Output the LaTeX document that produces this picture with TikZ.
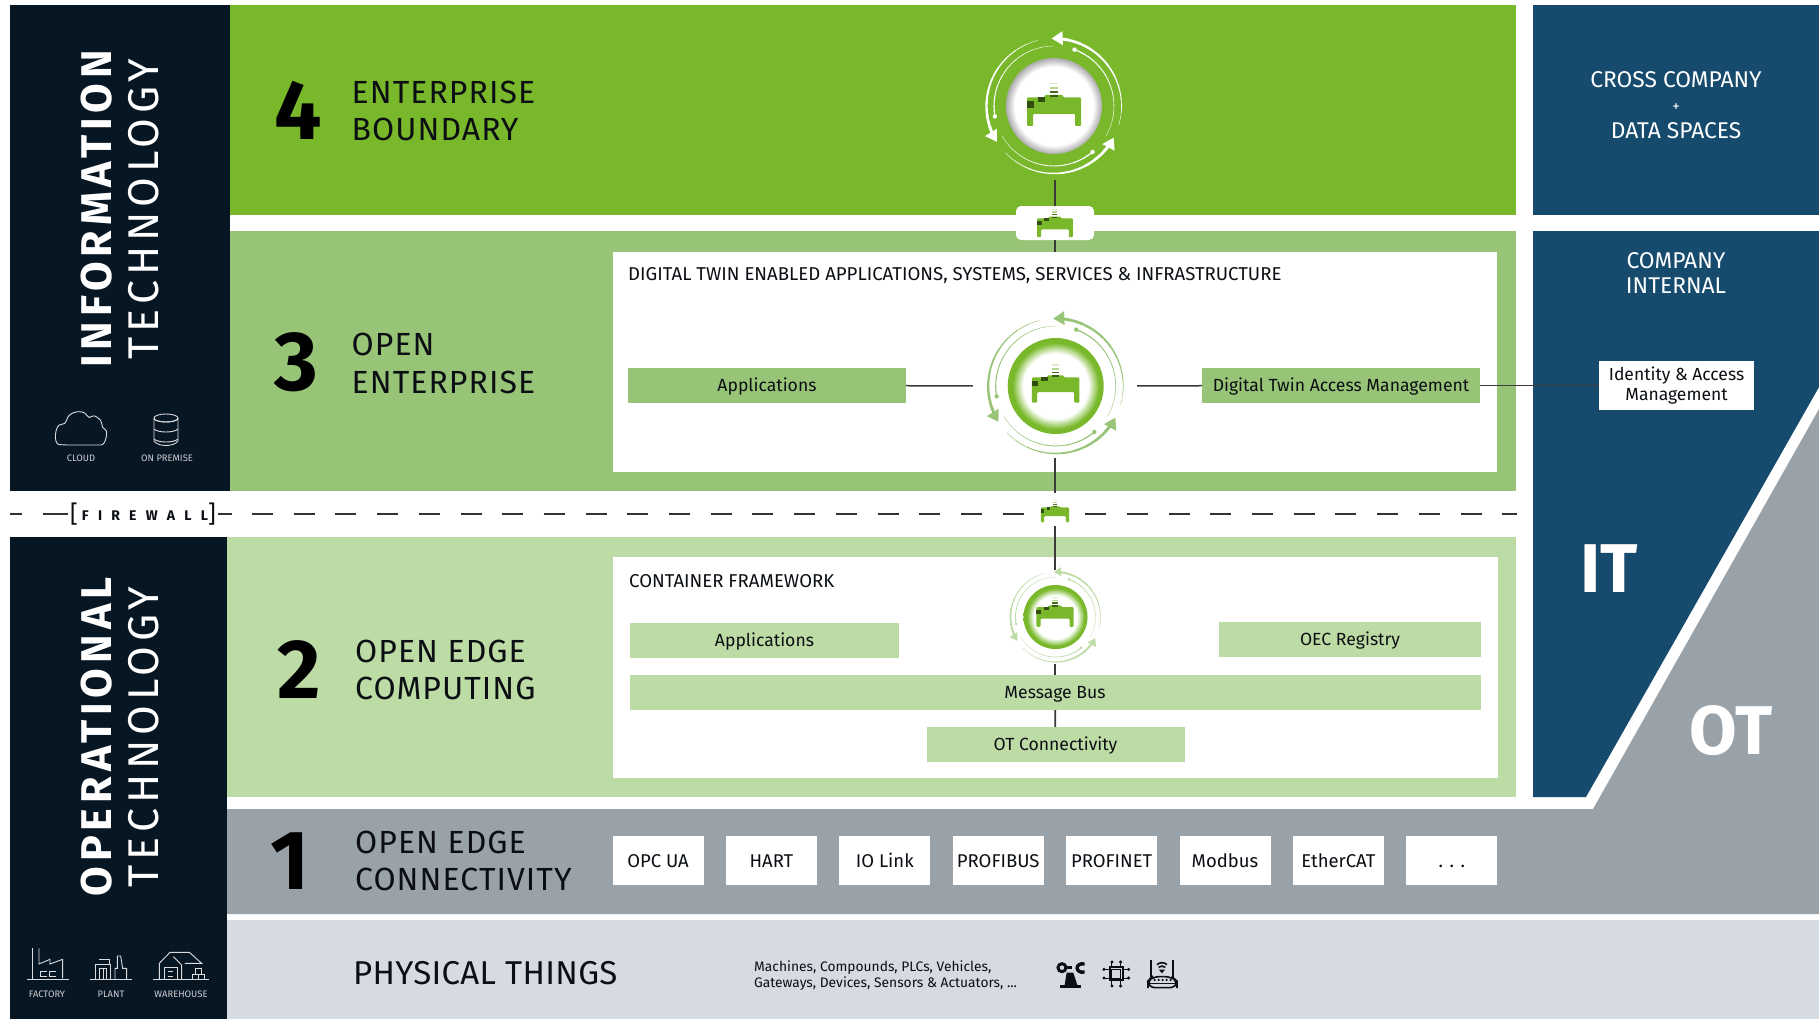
\documentclass[tikz,border=0pt]{standalone}
\usepackage{fontspec}
\setmainfont{Fira Sans}
\usetikzlibrary{positioning}

\definecolor{nightblue}{HTML}{071623}
\definecolor{levelfour}{HTML}{78B82A}
\definecolor{levelthree}{HTML}{98C477}
\definecolor{leveltwo}{HTML}{BDDBA5}
\definecolor{levelone}{HTML}{9AA2A9}
\definecolor{levelzero}{HTML}{D6DAE2}
\definecolor{itblue}{HTML}{164B6E}
\definecolor{linkgrey}{HTML}{3A3A3A}
\definecolor{inkblack}{HTML}{0B0F14}

\newcommand{\fsz}[1]{\fontsize{#1}{#1}\selectfont}

\pgfdeclareradialshading{greyrim}{\pgfpointorigin}{color(0bp)=(white); color(20.5bp)=(white); color(25bp)=(gray!65); color(50bp)=(gray!65)}
\pgfdeclareradialshading{fourrim}{\pgfpointorigin}{color(0bp)=(white); color(17bp)=(white); color(22.5bp)=(levelfour); color(25bp)=(levelfour); color(50bp)=(levelfour)}

\tikzset{
  pics/twin/.style={code={
    \fill[levelfour,rounded corners=1pt] (-27,-8.7) -- (-9.3,-8.7) -- (-9.3,-11) -- (9,-11) -- (9,-8.7) -- (27,-8.7) -- (27,20) -- (21,20) -- (21,8) -- (-21,8) -- (-21,20) -- (-27,20) -- cycle;
    \fill[black!30!levelfour!60!black] (-27,-5) rectangle (-20.3,1.7);
    \fill[black!30!levelfour!60!black] (-16.3,-8.7) rectangle (-9.3,-4);
    \fill[levelfour!25] (-4.3,-23.3) rectangle (3.7,-22);
    \fill[levelfour!55] (-4.3,-19.3) rectangle (3.7,-17.3);
    \fill[levelfour!60!black] (-4.3,-15.3) rectangle (3.7,-13.3);
    \fill[levelfour!50!black] (-4.3,-11) rectangle (3.7,-9);
  }},
  pics/twinring/.style n args={3}{code={
    \shade[shading=#2] (0pt,0pt) circle (48pt);
    \foreach \ringrot in {0,120,240} {
      \begin{scope}[rotate=\ringrot]
        \foreach \s in {0,...,9} {
          \pgfmathsetmacro\outerang{-16+10.4*\s}
          \pgfmathsetmacro\innerang{-30+10*\s}
          \draw[#1,line width=(0.4+0.28*\s)*#3 pt] (\outerang:67.5pt) arc[start angle=\outerang,delta angle=11,radius=67.5pt];
          \draw[#1,line width=(0.3+0.1*\s)*#3 pt] (\innerang:60pt) arc[start angle=\innerang,delta angle=10.5,radius=60pt];
        }
        \fill[#1,rotate=92] (67.5pt,0pt) -- ++(-7pt,-11pt) -- ++(14pt,0pt) -- cycle;
        \fill[#1] (70:60pt) circle (2.2pt);
      \end{scope}
    }
  }},
  rowhead/.style={anchor=west,align=left,inner sep=0pt,text=inkblack,font=\fontsize{32}{37}\selectfont\addfontfeature{LetterSpace=3.3}},
  levelnum/.style={text=black,font=\fsz{84}\bfseries},
  sidetitle/.style={rotate=90,text=white},
  smalltag/.style={text=white!80!nightblue,font=\fsz{9.4}},
  sidetext/.style={text=white,align=center,font=\fontsize{22.8}{25}\selectfont},
  greenbox/.style={minimum height=35pt,inner sep=0pt,text height=12pt,text depth=0pt,text=inkblack,font=\fsz{17.6}},
  connbox/.style={fill=white,minimum width=91pt,minimum height=49pt,inner sep=0pt,text height=13pt,text depth=0pt,text=inkblack,font=\fsz{18.5}},
  link/.style={draw=linkgrey,line width=1.8pt},
  fwdash/.style={draw=inkblack!85,line width=1.8pt},
  hollow/.style={draw=white!85!nightblue,line width=.9pt},
}

\begin{document}
\begin{tikzpicture}[x=1pt,y=-1pt]
\useasboundingbox (0,0) rectangle (1819,1019);

% bands
\fill[nightblue] (10,5) rectangle (230,491);
\fill[nightblue] (10,537) rectangle (227,1019);
\fill[levelfour] (230,5) rectangle (1516,215);
\fill[levelthree] (230,231) rectangle (1516,491);
\fill[leveltwo] (227,537) rectangle (1516,797);
\fill[levelone] (227,809) -- (1593,809) -- (1819,409) -- (1819,914) -- (227,914) -- cycle;
\fill[levelzero] (227,920) rectangle (1819,1019);
\fill[itblue] (1533,5) rectangle (1819,215);
\fill[itblue] (1533,231) -- (1819,231) -- (1819,387) -- (1586,797) -- (1533,797) -- cycle;
\fill[white] (612.5,252) rectangle (1496.5,472);
\fill[white] (613,557) rectangle (1498,778);

% side titles
\node[sidetitle,font=\fsz{43}\bfseries\addfontfeature{LetterSpace=11.5}] (infotitle) at (97,209) {INFORMATION};
\node[sidetitle,font=\fsz{43}\addfontfeature{LetterSpace=11.5}] (infotech) at (144,209) {TECHNOLOGY};
\node[sidetitle,font=\fsz{43}\bfseries\addfontfeature{LetterSpace=11.5}] (optitle) at (97,737) {OPERATIONAL};
\node[sidetitle,font=\fsz{43}\addfontfeature{LetterSpace=11.5}] (optech) at (144,737) {TECHNOLOGY};

% cloud and database
\draw[hollow,rounded corners=5pt] (72,445) -- (64,445) .. controls (53,444) and (55,424) .. (66,425) .. controls (68,411) and (84,409) .. (89,420) .. controls (94,414) and (102,420) .. (101,428) .. controls (108,431) and (106,445) .. (96,445) -- cycle;
\foreach \dby in {419,429,439} {
  \draw[hollow] (154,\dby) .. controls (158,\dby+4) and (174,\dby+4) .. (178,\dby);
}
\draw[hollow] (166,418) ellipse (12 and 4);
\draw[hollow] (154,418) -- (154,441) .. controls (158,447) and (174,447) .. (178,441) -- (178,418);
\node[smalltag] (cloudtag) at (81,458) {CLOUD};
\node[smalltag] (premisetag) at (167,458) {ON PREMISE};

% factory, plant, warehouse
\begin{scope}[shift={(0,900)},x=.3333pt,y=-.3333pt]
\draw[hollow] (81,238) -- (207,238);
\draw[hollow] (97,238) -- (97,145);
\draw[hollow] (117,145) -- (117,192) -- (150,178) -- (150,192) -- (188,178) -- (188,235);
\draw[hollow] (140,215) -- (120,215) -- (120,228) -- (140,228);
\draw[hollow] (167,215) -- (148,215) -- (148,228) -- (167,228);
\draw[hollow] (270,238) -- (396,238);
\draw[hollow] (285,238) -- (285,192) -- (332,192) -- (332,238);
\draw[hollow] (298,238) -- (298,205) -- (320,205) -- (320,238) (309,205) -- (309,238);
\draw[hollow] (298,178) -- (328,178) -- (328,192);
\draw[hollow] (345,238) -- (345,205) -- (352,205) -- (352,168) -- (362,168) -- (368,205) -- (380,205) -- (380,238);
\draw[hollow] (460,238) -- (628,238);
\draw[hollow] (478,238) -- (478,190) -- (510,157) -- (568,157) -- (605,190) -- (555,190);
\draw[hollow] (520,170) -- (545,195) -- (545,238);
\draw[hollow] (493,238) -- (493,202) -- (532,202) -- (532,238);
\draw[hollow] (505,215) -- (520,215) (505,228) -- (520,228);
\draw[hollow] (577,222) rectangle (595,238);
\draw[hollow] (595,222) rectangle (612,238);
\draw[hollow] (585,205) rectangle (603,222);
\end{scope}
\node[smalltag] (factorytag) at (47,994) {FACTORY};
\node[smalltag] (planttag) at (111,994) {PLANT};
\node[smalltag] (housetag) at (181,994) {WAREHOUSE};

% level headings
\node[levelnum] (num4) at (298,110) {4};
\node[rowhead] (head4) at (351.5,111) {ENTERPRISE\\BOUNDARY};
\node[levelnum] (num3) at (296,362) {3};
\node[rowhead] (head3) at (351.5,363) {OPEN\\[1pt]ENTERPRISE};
\node[levelnum] (num2) at (299,670) {2};
\node[rowhead] (head2) at (355,670) {OPEN EDGE\\COMPUTING};
\node[levelnum] (num1) at (290,861) {1};
\node[rowhead] (head1) at (355,861) {OPEN EDGE\\CONNECTIVITY};
\node[rowhead,font=\fsz{33}\addfontfeature{LetterSpace=1}] (head0) at (353,973) {PHYSICAL THINGS};
\node[anchor=west,align=left,inner sep=0pt,text=inkblack,font=\fsz{13.8}] (thingstext) at (754,976) {Machines, Compounds, PLCs, Vehicles,\\[2.2pt]Gateways, Devices, Sensors \& Actuators, ...};

% right column
\node[sidetext] (crosstext) at (1676,105) {CROSS COMPANY\\[-1pt]\fsz{15}+\\[2pt]DATA SPACES};
\node[sidetext] (interntext) at (1676,273) {COMPANY\\INTERNAL};
\node[fill=white,minimum width=155pt,minimum height=49pt,inner sep=0pt,align=center,text=inkblack,font=\fsz{17.5}] (identity) at (1676.5,385.5) {\raisebox{-2pt}{\parbox{150pt}{\centering Identity \& Access\\[2pt]Management}}};
\node[text=white,font=\fsz{69}\bfseries] (ittag) at (1609,569) {IT};
\node[text=white,font=\fsz{69}\bfseries] (ottag) at (1731,731) {OT};

% level 3 box
\node[anchor=west,inner sep=0pt,text=inkblack,font=\fsz{18.6}] (title3) at (628,276) {DIGITAL TWIN ENABLED APPLICATIONS, SYSTEMS, SERVICES \& INFRASTRUCTURE};
\node[greenbox,fill=levelthree,minimum width=278pt] (appl3) at (767,385.5) {Applications};
\node[greenbox,fill=levelthree,minimum width=278pt] (access3) at (1341,385.5) {Digital Twin Access Management};

% level 2 box
\node[anchor=west,inner sep=0pt,text=inkblack,font=\fsz{18.6}] (title2) at (629,581) {CONTAINER FRAMEWORK};
\node[greenbox,fill=leveltwo,minimum width=269pt] (appl2) at (764.5,640.5) {Applications};
\node[greenbox,fill=leveltwo,minimum width=262pt] (registry2) at (1350,639.5) {OEC Registry};
\node[greenbox,fill=leveltwo,minimum width=851pt] (bus2) at (1055,692.5) {Message Bus};
\node[greenbox,fill=leveltwo,minimum width=258pt] (ot2) at (1055.5,744.5) {OT Connectivity};

% level 1 boxes
\foreach \i/\conn in {0/OPC UA,1/HART,2/IO Link,3/PROFIBUS,4/PROFINET,5/Modbus,6/EtherCAT,7/. . .} {
  \node[connbox] (conn\i) at (658+113.4*\i,860.5) {\conn};
}

% twin rings
\node[circle,minimum size=148pt,inner sep=0pt] (ring4) at (1055,106) {};
\node[circle,minimum size=144pt,inner sep=0pt] (ring3) at (1055,386) {};
\node[circle,minimum size=93pt,inner sep=0pt] (ring2) at (1055,617) {};
\node[fill=white,rounded corners=5pt,minimum width=78pt,minimum height=34pt,inner sep=0pt] (badge) at (1055,223) {};
\node[minimum width=60pt,minimum height=42pt,inner sep=0pt] (fwtwin) at (1055,514) {};
\node[inner sep=0pt,minimum width=150pt,minimum height=28pt,text=inkblack] (firewall) at (143,514) {\fsz{24}[\,\raisebox{2pt}{\fsz{14}\bfseries\addfontfeature{LetterSpace=66}FIREWALL}\fsz{24}]};
\coordinate (fwa) at (10,514);
\coordinate (fwb) at (22,514);
\coordinate (fwc) at (43,514);
\coordinate (fwd) at (232,514);
\coordinate (fwe) at (252,514);
\coordinate (fwf) at (1517,514);

% connectors
\draw[link] (ring4) -- (badge);
\draw[link] (badge) -- (1055,252);
\draw[link] (ring3) -- (fwtwin);
\draw[link,shorten <=-9pt] (fwtwin) -- (ring2);
\draw[link] (ring2) -- (bus2);
\draw[link] (bus2) -- (ot2);
\draw[link,line width=1.5pt,shorten >=10pt] (appl3) -- (ring3);
\draw[link,line width=1.5pt,shorten <=10pt] (ring3) -- (access3);
\draw[link,line width=1.5pt] (access3) -- (identity);
\draw[fwdash] (fwa) -- (fwb);
\draw[fwdash] (fwc) -- (firewall);
\draw[fwdash] (firewall) -- (fwd);
\draw[fwdash,dash pattern=on 21pt off 20.7pt] (fwe) -- (fwtwin);
\draw[fwdash,dash pattern=on 21pt off 20.7pt] (fwtwin.east) -- (fwf);

% twins on top
\pic at (1054,106) {twinring={white}{greyrim}{1}};
\pic at (1054,106) {twin};
\pic at (1055.7,386) {twinring={levelthree}{fourrim}{1}};
\pic[scale=.88] at (1055.7,385) {twin};
\pic[scale=.667] at (1055.5,617) {twinring={leveltwo}{fourrim}{.7}};
\pic[scale=.69] at (1055,613) {twin};
\pic[scale=.66] at (1055,224) {twin};
\pic[scale=.52] at (1055,512) {twin};

% physical thing icons
\begin{scope}[shift={(720,930)},x=.3333pt,y=-.3333pt]
\draw[inkblack,line width=2.4pt] (1020,170) -- (1082,170);
\fill[inkblack] (1034,165) -- (1040,128) -- (1060,128) -- (1072,165) -- cycle;
\draw[inkblack,line width=3pt] (1026,113) circle (12);
\draw[inkblack,line width=2.4pt] (1040,113) -- (1056,113);
\draw[inkblack,line width=3.4pt] (1094,102) .. controls (1064,96) and (1064,132) .. (1094,126);
\draw[inkblack,line width=2pt] (1170,112) rectangle (1208,150);
\draw[inkblack,line width=1pt] (1176,118) rectangle (1202,144);
\foreach \p in {1176,1202} {
  \draw[inkblack,line width=1pt] (\p,112) -- (\p,97) (\p,150) -- (\p,166);
  \fill[inkblack] (\p,96) circle (5) (\p,168) circle (5);
}
\foreach \q in {118,144} {
  \draw[inkblack,line width=1pt] (1170,\q) -- (1154,\q) (1208,\q) -- (1224,\q);
  \fill[inkblack] (1152,\q) circle (5) (1226,\q) circle (5);
}
\draw[inkblack,line width=1.6pt,rounded corners=7pt] (1284,173) -- (1284,153) -- (1296,140) -- (1356,140) -- (1371,153) -- (1371,173) -- cycle;
\draw[inkblack,line width=1.4pt] (1284,160) -- (1371,160);
\draw[inkblack,line width=2.2pt] (1292,90) -- (1292,140) (1360,90) -- (1360,140);
\foreach \p in {1304,1316,1328,1340,1352} {
  \fill[inkblack] (\p,150) circle (3.5);
}
\draw[inkblack,line width=1.6pt] (1311,104) .. controls (1320,96) and (1332,96) .. (1341,104);
\draw[inkblack,line width=1.6pt] (1316,112) .. controls (1322,107) and (1330,107) .. (1336,112);
\fill[inkblack] (1326,130) -- (1317,119) -- (1335,119) -- cycle;
\end{scope}
\end{tikzpicture}
\end{document}
